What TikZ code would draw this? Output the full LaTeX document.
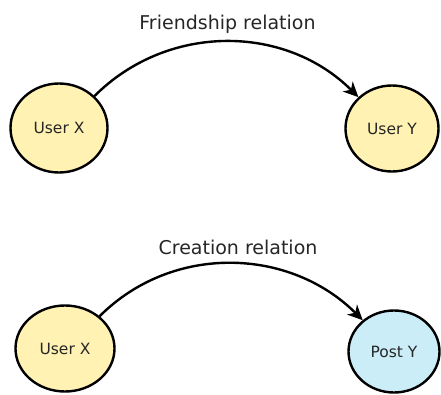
\documentclass[tikz,border=0pt]{standalone}
\usepackage{fontspec}
\setmainfont{DejaVu Sans}
\usetikzlibrary{shapes.geometric,arrows.meta}
\definecolor{userfill}{HTML}{FFF2B3}
\definecolor{postfill}{HTML}{CBEDF8}
\definecolor{labeltext}{HTML}{262626}
\tikzset{
  entity/.style={ellipse, draw=black, line width=2.4pt, inner sep=0pt,
    text=labeltext, font=\fontsize{15.5}{18}\selectfont},
  relation/.style={line width=2.4pt, -{Stealth[length=15pt,width=14pt,inset=4.5pt]}},
  reltitle/.style={anchor=base, text=labeltext, font=\fontsize{19}{23}\selectfont}
}
\begin{document}
\begin{tikzpicture}[x=1pt,y=1pt]
  \useasboundingbox (0,0) rectangle (441,394);

  % friendship: user to user
  \node[entity, fill=userfill, minimum width=97pt, minimum height=89pt] (ux1) at (59,266) {User X};
  \node[entity, fill=userfill, minimum width=93pt, minimum height=86pt] (uy1) at (392,265.5) {User Y};
  \node[reltitle] (t1) at (227.5,364) {Friendship relation};
  \draw[relation] (ux1.42) to[out=45,in=135] (uy1.137);

  % creation: user to post
  \node[entity, fill=userfill, minimum width=99pt, minimum height=86pt] (ux2) at (65,45.5) {User X};
  \node[entity, fill=postfill, minimum width=91pt, minimum height=82pt] (py2) at (394,42.5) {Post Y};
  \node[reltitle] (t2) at (238,140) {Creation relation};
  \draw[relation] (ux2.43) to[out=45,in=135] (py2.135);
\end{tikzpicture}
\end{document}
